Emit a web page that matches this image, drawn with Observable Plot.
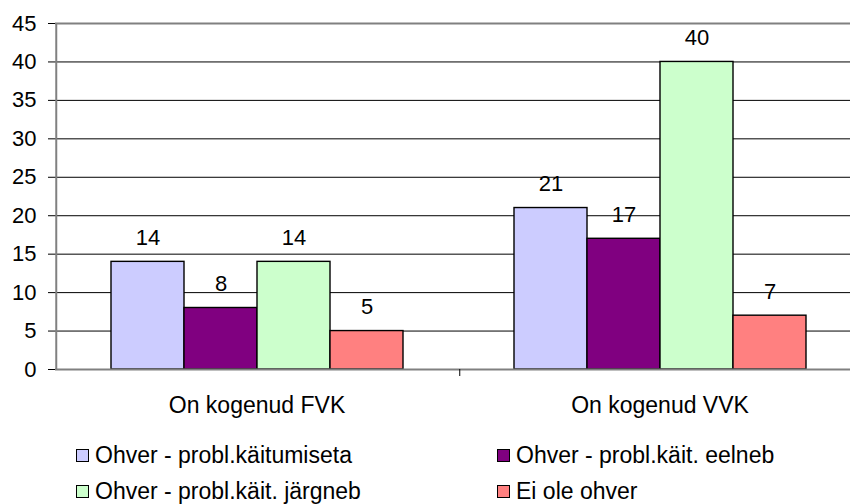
<!DOCTYPE html>
<html>
<head>
<meta charset="utf-8">
<script src="https://cdn.jsdelivr.net/npm/d3@7"></script>
<script src="https://cdn.jsdelivr.net/npm/@observablehq/plot@0.6"></script>
<style>
  html, body { margin: 0; padding: 0; background: white; overflow: hidden; }
  #wrap { width: 850px; height: 504px; overflow: hidden; position: relative; }
  .legend { font-family: "Liberation Sans", Arial, sans-serif; font-size: 23px; color: black;
            display: grid; grid-template-columns: 421px 340px; grid-auto-rows: 36px;
            padding-left: 76px; margin-top: 12px; }
  .item { display: flex; align-items: center; white-space: nowrap; }
  .sw { width: 11px; height: 11px; border: 1.5px solid black; margin-right: 6px; flex: none; }
</style>
</head>
<body>
<div id="wrap"></div>
<script>
const categories = ["On kogenud FVK", "On kogenud VVK"];
const series = ["Ohver - probl.käitumiseta", "Ohver - probl.käit. eelneb", "Ohver - probl.käit. järgneb", "Ei ole ohver"];
const valuesFVK = [14, 8, 14, 5];
const valuesVVK = [21, 17, 40, 7];
const colors = ["#CCCCFF", "#800080", "#CCFFCC", "#FF8080"];
const yTicks = [0, 5, 10, 15, 20, 25, 30, 35, 40, 45];
const gridTicks = [5, 10, 15, 20, 25, 30, 35, 40];

const data = categories.flatMap((c, i) =>
  series.map((s, j) => ({cat: c, series: s, value: (i === 0 ? valuesFVK : valuesVVK)[j]})));

const groupInset = 54.5;
const bandW = (403 - 2 * groupInset) / series.length;
const edgeDx = -(groupInset + bandW / 2) - 0.5;

const chart = Plot.plot({
  width: 861, height: 425,
  marginLeft: 55, marginRight: 0, marginTop: 23, marginBottom: 56,
  style: {fontFamily: "Liberation Sans, Arial, sans-serif", fontSize: "22px", background: "white", maxWidth: "none", color: "black"},
  fx: {domain: categories, padding: 0, label: null, axis: null},
  x: {domain: series, padding: 0, inset: groupInset, axis: null},
  y: {domain: [0, 45], axis: null},
  color: {domain: series, range: colors},
  marks: [
    Plot.ruleY(gridTicks, {stroke: "black", strokeWidth: 1}),
    Plot.barY(data, {fx: "cat", x: "series", y: "value", fill: "series", stroke: "black", strokeWidth: 1.4}),
    Plot.text(data, {fx: "cat", x: "series", y: "value", text: d => String(d.value), lineAnchor: "bottom", dy: -17, fill: "black"}),
    Plot.ruleY([45], {stroke: "#808080", strokeWidth: 2}),
    Plot.ruleY([0], {stroke: "#808080", strokeWidth: 2}),
    Plot.ruleX([{cat: categories[0], s: series[0]}], {fx: "cat", x: "s", y1: 0, y2: 45, dx: edgeDx, stroke: "#808080", strokeWidth: 2}),
    Plot.ruleX([{cat: categories[1], s: series[0]}], {fx: "cat", x: "s", y1: 0, y2: 0, insetBottom: -7, dx: edgeDx + 0.5, stroke: "black", strokeWidth: 1}),
    Plot.axisY({ticks: yTicks, tickSize: 7, tickPadding: 12, stroke: "black", fill: "black", label: null}),
    Plot.axisFx({anchor: "bottom", tickSize: 0, tickPadding: 27, label: null, fill: "black", fontSize: 23})
  ]
});

const wrap = document.getElementById("wrap");
wrap.appendChild(chart);
const legend = document.createElement("div");
legend.className = "legend";
series.forEach((s, i) => {
  const item = document.createElement("div");
  item.className = "item";
  const sw = document.createElement("span");
  sw.className = "sw";
  sw.style.background = colors[i];
  const t = document.createElement("span");
  t.textContent = s;
  item.appendChild(sw);
  item.appendChild(t);
  legend.appendChild(item);
});
wrap.appendChild(legend);
</script>
</body>
</html>
